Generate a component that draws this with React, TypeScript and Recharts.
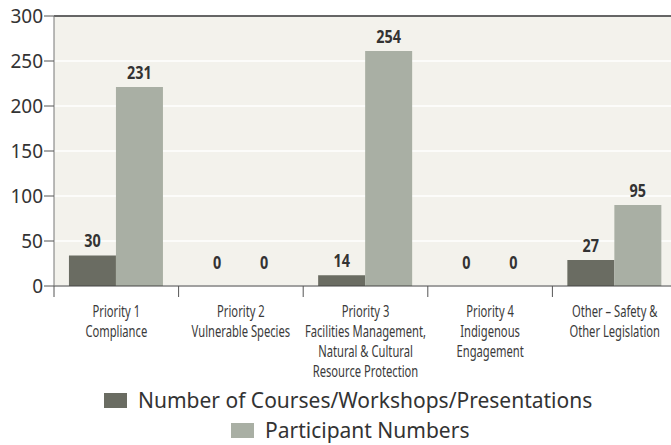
import { BarChart, Bar, XAxis, YAxis, CartesianGrid, ReferenceLine, Legend, LabelList, Cell } from 'recharts'

const categories = [
  'Priority 1\nCompliance',
  'Priority 2\nVulnerable Species',
  'Priority 3\nFacilities Management,\nNatural & Cultural\nResource Protection',
  'Priority 4\nIndigenous\nEngagement',
  'Other – Safety &\nOther Legislation',
]

// bar heights as drawn in the picture
const courses = [34, 0, 12, 0, 29]
const participants = [221, 0, 261, 0, 90]

// printed value labels
const courseLabels = [30, 0, 14, 0, 27]
const participantLabels = [231, 0, 254, 0, 95]

const yTicks = [0, 50, 100, 150, 200, 250, 300]

const seriesNames = ['Number of Courses/Workshops/Presentations', 'Participant Numbers']
const DARK = '#6a6c62'
const LIGHT = '#a9afa4'
const FONT = "'Noto Sans', sans-serif"

const data = categories.map((c, i) => ({
  category: c,
  courses: courses[i],
  participants: participants[i],
  courseLabel: courseLabels[i],
  participantLabel: participantLabels[i],
}))

function CategoryTick(props: any) {
  const { x, y, payload, width } = props
  const band = width / categories.length
  const lines = String(payload.value).split('\n')
  return (
    <g>
      <line x1={x - band / 2} x2={x - band / 2} y1={y} y2={y + 11} stroke="#555" strokeWidth={1} />
      <text
        transform={`translate(${x} ${y + 31}) scale(0.7 1)`}
        x={0}
        y={0}
        textAnchor="middle"
        fill="#3a3a3a"
        fontSize={16}
        fontFamily={FONT}
      >
        {lines.map((l, i) => (
          <tspan key={i} x={0} dy={i === 0 ? 0 : 20}>{l}</tspan>
        ))}
      </text>
    </g>
  )
}

function ValueLabel(props: any) {
  const { x, y, width, value } = props
  const off = value === 0 ? 16 : 8
  return (
    <text
      transform={`translate(${x + width / 2} ${y - off}) scale(0.8 1)`}
      x={0}
      y={0}
      textAnchor="middle"
      fill="#333"
      fontSize={18}
      fontWeight="bold"
      fontFamily={FONT}
    >
      {value}
    </text>
  )
}

function ChartLegend() {
  const row = (color: string, name: string, left: number) => (
    <div style={{ display: 'flex', alignItems: 'center', height: 30, marginLeft: left }}>
      <span style={{ display: 'inline-block', width: 23, height: 15, background: color, marginRight: 11 }} />
      <span>{name}</span>
    </div>
  )
  return (
    <div
      style={{
        height: 64,
        paddingTop: 4,
        boxSizing: 'border-box',
        fontFamily: FONT,
        fontSize: 21,
        color: '#333',
        textAlign: 'left',
        whiteSpace: 'nowrap',
      }}
    >
      {row(DARK, seriesNames[0], 104)}
      {row(LIGHT, seriesNames[1], 231)}
    </div>
  )
}

export default function App() {
  return (
    <div style={{ position: 'absolute', left: 0, top: 0, width: 671, height: 445, overflow: 'hidden', background: '#fff' }}>
      <BarChart
        width={680}
        height={445}
        data={data}
        margin={{ top: 16, right: 3, bottom: 0, left: 0 }}
        barCategoryGap="12%"
        barGap={0}
      >
        <CartesianGrid vertical={false} stroke="#ffffff" strokeWidth={1.5} fill="#f3f2ec" />
        <XAxis
          dataKey="category"
          interval={0}
          height={95}
          tickSize={0}
          tickMargin={0}
          tickLine={false}
          axisLine={{ stroke: '#444' }}
          tick={<CategoryTick />}
        />
        <YAxis
          domain={[0, 300]}
          ticks={yTicks}
          width={54}
          tickSize={10}
          tickMargin={1}
          axisLine={{ stroke: '#777' }}
          tickLine={{ stroke: '#555' }}
          tick={{ fill: '#333', fontSize: 19, fontFamily: FONT }}
        />
        <ReferenceLine y={300} stroke="#333" strokeWidth={1.5} />
        <Legend verticalAlign="bottom" content={() => <ChartLegend />} />
        <Bar dataKey="courses" name={seriesNames[0]} fill={DARK} minPointSize={1} isAnimationActive={false}>
          {courses.map((v, i) => (
            <Cell key={i} fill={v === 0 ? 'transparent' : DARK} />
          ))}
          <LabelList dataKey="courseLabel" content={<ValueLabel />} />
        </Bar>
        <Bar dataKey="participants" name={seriesNames[1]} fill={LIGHT} minPointSize={1} isAnimationActive={false}>
          {participants.map((v, i) => (
            <Cell key={i} fill={v === 0 ? 'transparent' : LIGHT} />
          ))}
          <LabelList dataKey="participantLabel" content={<ValueLabel />} />
        </Bar>
      </BarChart>
    </div>
  )
}
